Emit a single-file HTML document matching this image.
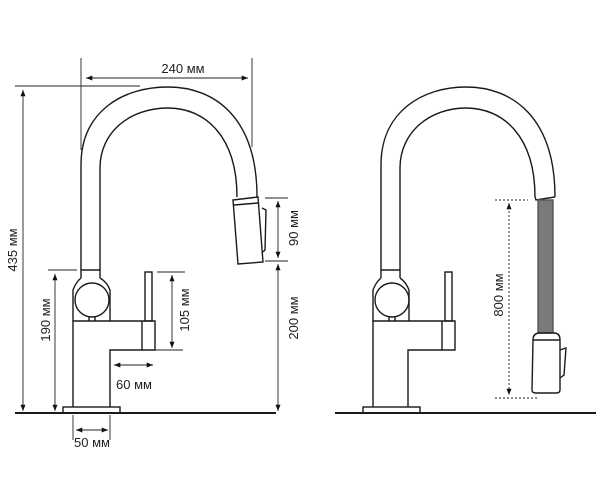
<!DOCTYPE html>
<html><head><meta charset="utf-8"><style>
html,body{margin:0;padding:0;background:#fff;}
svg{display:block;}
text{font-family:"Liberation Sans",sans-serif;font-size:13px;fill:#222;}
</style></head><body>
<svg width="600" height="497" viewBox="0 0 600 497" xmlns="http://www.w3.org/2000/svg">
<defs>
<marker id="a" viewBox="0 0 10 10" refX="10" refY="5" markerWidth="7" markerHeight="7" orient="auto-start-reverse"><path d="M0,1 L10,5 L0,9 z" fill="#111"/></marker>
</defs>
<g fill="none" stroke="#1a1a1a" stroke-width="1.4">
<line x1="15" y1="413" x2="276" y2="413" stroke-width="2"/>
<line x1="335" y1="413" x2="596" y2="413" stroke-width="2"/>

<rect x="63" y="407" width="57" height="6"/>
<path d="M73,407 L73,321 L155,321 L155,350 L110,350 L110,407"/>
<line x1="142" y1="321" x2="142" y2="350"/>
<rect x="145" y="272" width="7" height="49"/>
<path d="M73,321 L73,290 Q76,282 81,278 M110,321 L110,290 Q107,282 100,278"/>
<circle cx="92" cy="300" r="17"/>
<path d="M89,316 L89,321 M95,316 L95,321"/>
<path d="M81,278 L81,270 L100,270 L100,278"/>
<path d="M81,270 L81,165 C81,112 122,87 168,87 C215,87 257,118 257,197"/>
<path d="M100,270 L100,168 C100,132 130,108 168,108 C205,108 237,136 237,197"/>
<path d="M233,200 L258,197 L263,262 L238,264 Z"/>
<path d="M262,208 L266,210 L265,250 L263,252"/>
<line x1="234" y1="205" x2="258" y2="203"/>

<rect x="363" y="407" width="57" height="6"/>
<path d="M373,407 L373,321 L455,321 L455,350 L408,350 L408,407"/>
<line x1="442" y1="321" x2="442" y2="350"/>
<rect x="445" y="272" width="7" height="49"/>
<path d="M373,321 L373,290 Q376,282 381,278 M409,321 L409,290 Q406,282 400,278"/>
<circle cx="392" cy="300" r="17"/>
<path d="M389,316 L389,321 M395,316 L395,321"/>
<path d="M381,278 L381,270 L400,270 L400,278"/>
<path d="M381,270 L381,165 C381,112 422,87 466,87 C513,87 555,118 555,197"/>
<path d="M400,270 L400,168 C400,132 430,108 466,108 C503,108 535,136 535,197"/>
<path d="M535,197 L536,200 L555,197"/>
<rect x="538" y="200" width="15" height="133" fill="#7a7a7a" stroke="#555"/>
<path d="M533,340 Q533,333 540,333 L554,333 Q560,333 560,340 L560,390 Q560,393 556,393 L536,393 Q532,393 532,390 Z"/>
<line x1="533" y1="340" x2="560" y2="340"/>
<path d="M560,350 L566,348 L564,375 L560,378"/>
</g>

<g stroke="#222" stroke-width="0.9" fill="none">
<line x1="81" y1="58" x2="81" y2="150"/>
<line x1="252" y1="58" x2="252" y2="147"/>
<line x1="86" y1="78" x2="248" y2="78" marker-start="url(#a)" marker-end="url(#a)"/>
<line x1="15" y1="86" x2="140" y2="86"/>
<line x1="23" y1="90" x2="23" y2="411" marker-start="url(#a)" marker-end="url(#a)"/>
<line x1="48" y1="270" x2="77" y2="270"/>
<line x1="55" y1="274" x2="55" y2="411" marker-start="url(#a)" marker-end="url(#a)"/>
<line x1="157" y1="272" x2="185" y2="272"/>
<line x1="155" y1="350" x2="183" y2="350"/>
<line x1="172" y1="275" x2="172" y2="348" marker-start="url(#a)" marker-end="url(#a)"/>
<line x1="114" y1="365" x2="153" y2="365" marker-start="url(#a)" marker-end="url(#a)"/>
<line x1="73" y1="415" x2="73" y2="440"/>
<line x1="110" y1="415" x2="110" y2="440"/>
<line x1="76" y1="430" x2="108" y2="430" marker-start="url(#a)" marker-end="url(#a)"/>
<line x1="265" y1="198" x2="288" y2="198"/>
<line x1="265" y1="261" x2="288" y2="261"/>
<line x1="278" y1="201" x2="278" y2="258" marker-start="url(#a)" marker-end="url(#a)"/>
<line x1="278" y1="264" x2="278" y2="411" marker-start="url(#a)" marker-end="url(#a)"/>
<g stroke-dasharray="2,2">
<line x1="495" y1="200" x2="528" y2="200"/>
<line x1="495" y1="398" x2="538" y2="398"/>
<line x1="509" y1="203" x2="509" y2="395" marker-start="url(#a)" marker-end="url(#a)"/>
</g>
</g>

<g>
<text x="183" y="73" text-anchor="middle">240 мм</text>
<text x="134" y="389" text-anchor="middle">60 мм</text>
<text x="92" y="447" text-anchor="middle">50 мм</text>
<text transform="translate(17,250) rotate(-90)" text-anchor="middle">435 мм</text>
<text transform="translate(50,320) rotate(-90)" text-anchor="middle">190 мм</text>
<text transform="translate(189,310) rotate(-90)" text-anchor="middle">105 мм</text>
<text transform="translate(298,228) rotate(-90)" text-anchor="middle">90 мм</text>
<text transform="translate(298,318) rotate(-90)" text-anchor="middle">200 мм</text>
<text transform="translate(503,295) rotate(-90)" text-anchor="middle">800 мм</text>
</g>
</svg>
</body></html>
